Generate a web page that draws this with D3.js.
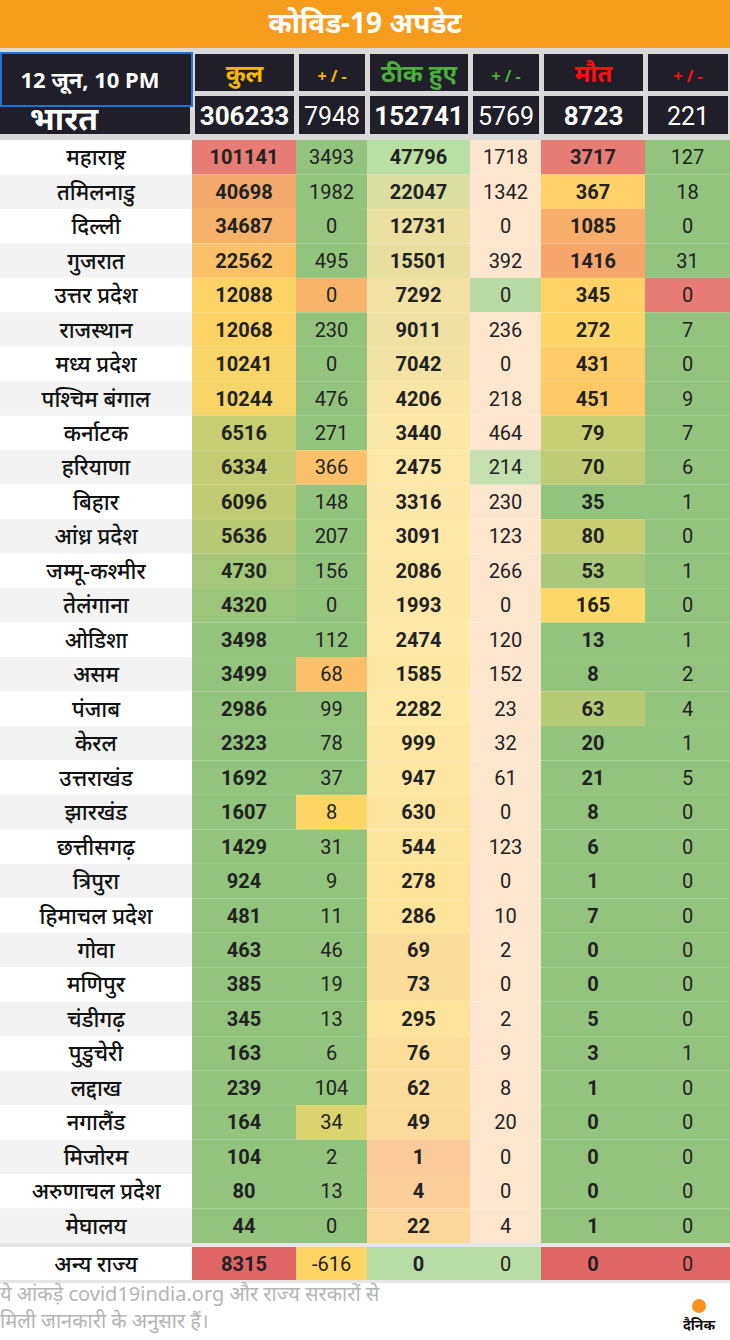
<!DOCTYPE html>
<html><head><meta charset="utf-8">
<script src="https://d3js.org/d3.v7.min.js"></script>
<style>body{margin:0;background:#fff}</style>
</head><body>
<svg id="c"></svg>
<script>
var w = 730, h = 1340;

var states = ["महाराष्ट्र","तमिलनाडु","दिल्ली","गुजरात","उत्तर प्रदेश","राजस्थान","मध्य प्रदेश","पश्चिम बंगाल","कर्नाटक","हरियाणा","बिहार","आंध्र प्रदेश","जम्मू-कश्मीर","तेलंगाना","ओडिशा","असम","पंजाब","केरल","उत्तराखंड","झारखंड","छत्तीसगढ़","त्रिपुरा","हिमाचल प्रदेश","गोवा","मणिपुर","चंडीगढ़","पुडुचेरी","लद्दाख","नगालैंड","मिजोरम","अरुणाचल प्रदेश","मेघालय"];
var total = [101141,40698,34687,22562,12088,12068,10241,10244,6516,6334,6096,5636,4730,4320,3498,3499,2986,2323,1692,1607,1429,924,481,463,385,345,163,239,164,104,80,44];
var totalDelta = [3493,1982,0,495,0,230,0,476,271,366,148,207,156,0,112,68,99,78,37,8,31,9,11,46,19,13,6,104,34,2,13,0];
var recovered = [47796,22047,12731,15501,7292,9011,7042,4206,3440,2475,3316,3091,2086,1993,2474,1585,2282,999,947,630,544,278,286,69,73,295,76,62,49,1,4,22];
var recDelta = [1718,1342,0,392,0,236,0,218,464,214,230,123,266,0,120,152,23,32,61,0,123,0,10,2,0,2,9,8,20,0,0,4];
var deaths = [3717,367,1085,1416,345,272,431,451,79,70,35,80,53,165,13,8,63,20,21,8,6,1,7,0,0,5,3,1,0,0,0,1];
var deathDelta = [127,18,0,31,0,7,0,9,7,6,1,0,1,0,1,2,4,1,5,0,0,0,0,0,0,0,1,0,0,0,0,0];

var headers = ["कुल","+ / -","ठीक हुए","+ / -","मौत","+ / -"];
var india = [306233,7948,152741,5769,8723,221];
var others = [8315,-616,0,0,0,0];

var svg = d3.select("#c").attr("width", w).attr("height", h)
  .style("font-family","'Noto Sans','Liberation Sans',sans-serif");
var numFont = "Roboto,'Liberation Sans',sans-serif";

// column edges
var edges = [0,192,296,367,470,541,645,730];
var y = d3.scaleBand().domain(d3.range(states.length)).range([140,1243]);
var rh = y.bandwidth();

// colour scales
var green = "#93c47d";
var cTotal = d3.scaleLog().domain([4000,11000,30000,100000]).range([green,"#ffd666","#f8b96a","#e67c73"]).clamp(true);
var cRec = d3.scaleSymlog().domain([1,300,3000,16000,48000]).range(["#fbc99a","#fde49a","#fde8a8","#e8dea0","#b9dfa3"]).clamp(true);
var cDeath = d3.scaleSymlog().domain([40,150,300,1400,3700]).range([green,"#fbd86a","#ffd666","#f6a66b","#e67c73"]).clamp(true);
var special = {"उत्तर प्रदेश":["#f7b36a","#b8dba6","#e67c73"],"हरियाणा":["#fdc06a","#c5dfae",null],"असम":["#fdc06a",null,null],"झारखंड":["#ffd666",null,null],"नगालैंड":["#d9d46e",null,null]};

// title
svg.append("rect").attr("width",w).attr("height",48).attr("fill","#f79d1e");
svg.append("text").attr("x",w/2).attr("y",33).attr("text-anchor","middle")
  .attr("fill","#fff").attr("font-size",28).attr("font-weight","bold").text("कोविड-19 अपडेट");
svg.append("rect").attr("y",48).attr("width",w).attr("height",92).attr("fill","#d9d9d9");

// header cells
var hc = ["#f6b800","#f6b800","#4cae3c","#4cae3c","#ff1010","#ff1010"];
for (var i = 0; i < 6; i++) {
  var x0 = edges[i+1]+3, x1 = edges[i+2]-2;
  svg.append("rect").attr("x",x0).attr("y",54).attr("width",x1-x0).attr("height",37).attr("fill","#1f1e29");
  svg.append("text").attr("x",(x0+x1)/2).attr("y",82).attr("text-anchor","middle")
    .attr("fill",hc[i]).attr("font-size",i%2?16:24).attr("font-weight","bold").text(headers[i]);
  svg.append("rect").attr("x",x0).attr("y",96).attr("width",x1-x0).attr("height",38).attr("fill","#1f1e29");
  svg.append("text").attr("x",(x0+x1)/2).attr("y",125).attr("text-anchor","middle")
    .attr("fill","#fff").attr("font-size",i%2?25:26).attr("font-weight",i%2?"normal":"bold")
    .style("font-family",numFont).text(india[i]);
}
svg.append("rect").attr("x",0).attr("y",96).attr("width",190).attr("height",38).attr("fill","#1f1e29");
svg.append("text").attr("x",64).attr("y",130).attr("text-anchor","middle").attr("fill","#fff")
  .attr("font-size",32).attr("font-weight","bold").text("भारत");
svg.append("rect").attr("x",1).attr("y",53).attr("width",191).attr("height",53).attr("fill","#1f1e29")
  .attr("stroke","#1e73d8").attr("stroke-width",2);
svg.append("text").attr("x",90).attr("y",88).attr("text-anchor","middle").attr("fill","#fff")
  .attr("font-size",22).attr("font-weight","bold").text("12 जून, 10 PM");

// body rows
var cols = [total,totalDelta,recovered,recDelta,deaths,deathDelta];
var rows = svg.selectAll("g.row").data(states).enter().append("g").attr("class","row")
  .attr("transform",function(d,i){return "translate(0,"+y(i)+")";});

rows.append("rect").attr("width",192).attr("height",rh)
  .attr("fill",function(d,i){return i%2?"#f3f3f3":"#fff";});
rows.append("text").attr("x",96).attr("y",rh/2+8).attr("text-anchor","middle")
  .attr("font-size",22).attr("font-weight",500).attr("fill","#111").text(function(d){return d;});

function cellColor(c, i, v, name) {
  var sp = special[name];
  if (sp && c%2 && sp[(c-1)/2]) return sp[(c-1)/2];
  if (c==0) return cTotal(v);
  if (c==2) return cRec(v);
  if (c==4) return cDeath(v);
  if (c==3) return "#fde6ce";
  return green;
}

cols.forEach(function(arr, c) {
  rows.append("rect").attr("x",edges[c+1]).attr("width",edges[c+2]-edges[c+1]).attr("height",rh)
    .attr("fill",function(d,i){return cellColor(c,i,arr[i],d);});
  rows.append("text").attr("x",(edges[c+1]+edges[c+2])/2).attr("y",rh/2+7)
    .attr("text-anchor","middle").attr("font-size",20).attr("fill","#222").style("font-family",numFont)
    .attr("font-weight",c%2?"normal":"bold").text(function(d,i){return arr[i];});
});

// separator + others row
svg.append("rect").attr("y",1243).attr("width",w).attr("height",4).attr("fill","#e6e6e6");
var oc = ["#e06666","#ffd666","#b7dca5","#b7dca5","#e06666","#e06666"];
svg.append("text").attr("x",96).attr("y",1272).attr("text-anchor","middle").attr("font-size",22).attr("font-weight",500).attr("fill","#111").text("अन्य राज्य");
others.forEach(function(v,c){
  svg.append("rect").attr("x",edges[c+1]).attr("y",1247).attr("width",edges[c+2]-edges[c+1]).attr("height",33).attr("fill",oc[c]);
  svg.append("text").attr("x",(edges[c+1]+edges[c+2])/2).attr("y",1271).attr("text-anchor","middle").style("font-family",numFont)
    .attr("font-size",20).attr("fill","#222").attr("font-weight",c%2?"normal":"bold").text(v);
});
svg.append("rect").attr("y",1280).attr("width",w).attr("height",3).attr("fill","#e6e6e6");

// footer
svg.append("text").attr("x",0).attr("y",1301).attr("font-size",20).attr("fill","#b5b5b5").text("ये आंकड़े covid19india.org और राज्य सरकारों से");
svg.append("text").attr("x",0).attr("y",1328).attr("font-size",20).attr("fill","#b5b5b5").text("मिली जानकारी के अनुसार हैं।");
svg.append("circle").attr("cx",699).attr("cy",1306).attr("r",7).attr("fill","#f7931e");
svg.append("text").attr("x",699).attr("y",1330).attr("text-anchor","middle").attr("font-size",14).attr("font-weight","bold").attr("fill","#111").text("दैनिक");
</script>
</body></html>
